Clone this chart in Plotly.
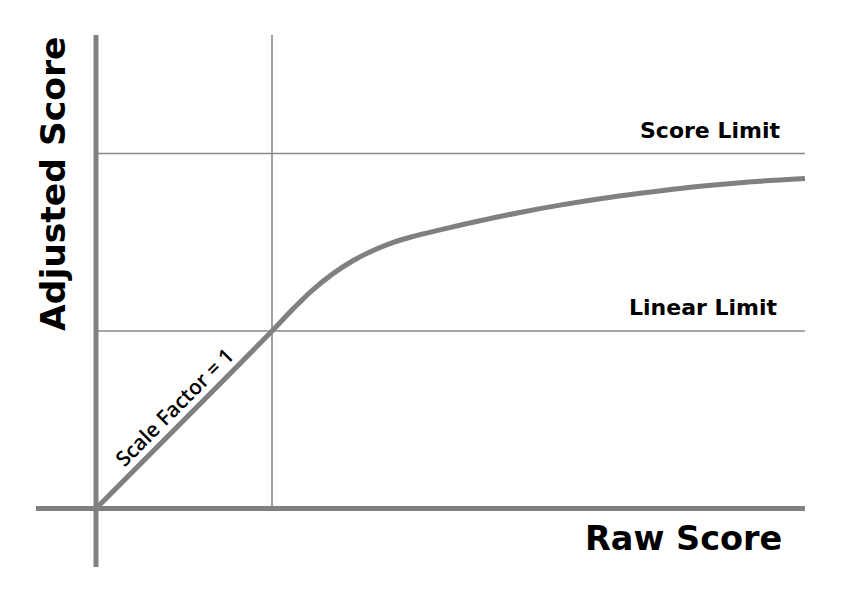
import plotly.graph_objects as go

# ---- data (units: linear limit = 1, score limit = 2) ----
raw_score = [0.0, 1.000, 1.114, 1.227, 1.341, 1.455, 1.568, 1.682, 1.795, 1.955,
             2.182, 2.409, 2.636, 2.864, 3.091, 3.318, 3.545, 3.773, 4.028]
adjusted_score = [0.0, 1.000, 1.119, 1.228, 1.319, 1.393, 1.451, 1.497, 1.531, 1.570,
                  1.621, 1.668, 1.709, 1.745, 1.776, 1.803, 1.825, 1.844, 1.859]
linear_limit = 1.0
score_limit = 2.0
raw_score_max = 4.028
axis_x_extent = [-0.341, 4.028]
axis_y_extent = [-0.330, 2.668]

W, H = 852, 591
GREY = "#808080"
THIN = "#8a8a8a"
FONT = "DejaVu Sans"

def px(x):
    return x / W

def py(y):
    return 1 - y / H

fig = go.Figure()

fig.add_trace(go.Scatter(
    x=raw_score, y=adjusted_score, mode="lines",
    line=dict(color=GREY, width=5, shape="spline", smoothing=1.0),
    hoverinfo="skip",
))

shapes = [
    # thin reference lines
    dict(type="line", x0=linear_limit, x1=linear_limit, y0=0, y1=axis_y_extent[1],
         line=dict(color=THIN, width=1.6)),
    dict(type="line", x0=0, x1=raw_score_max, y0=linear_limit, y1=linear_limit,
         line=dict(color=THIN, width=1.6)),
    dict(type="line", x0=0, x1=raw_score_max, y0=score_limit, y1=score_limit,
         line=dict(color=THIN, width=1.6)),
    # thick axes
    dict(type="line", x0=axis_x_extent[0], x1=axis_x_extent[1], y0=0, y1=0,
         line=dict(color=GREY, width=5)),
    dict(type="line", x0=0, x1=0, y0=axis_y_extent[0], y1=axis_y_extent[1],
         line=dict(color=GREY, width=5)),
]
for s in shapes:
    s.update(xref="x", yref="y", layer="below")

annotations = [
    dict(text="<b>Adjusted Score</b>", x=px(53), y=py(184), textangle=-90,
         font=dict(family=FONT, size=34.5, color="black"),
         xanchor="center", yanchor="middle"),
    dict(text="<b>Raw Score</b>", x=px(683), y=py(538),
         font=dict(family=FONT, size=33.5, color="black"),
         xanchor="center", yanchor="middle"),
    dict(text="<b>Score Limit</b>", x=px(782), y=py(130),
         font=dict(family=FONT, size=22, color="black"),
         xanchor="right", yanchor="middle"),
    dict(text="<b>Linear Limit</b>", x=px(780), y=py(307),
         font=dict(family=FONT, size=22, color="black"),
         xanchor="right", yanchor="middle"),
    dict(text="Scale Factor = 1", x=px(174), y=py(407), textangle=-45,
         font=dict(family="Open Sans", size=21, color="black", weight=600),
         xanchor="center", yanchor="middle"),
]
for a in annotations:
    a.update(xref="paper", yref="paper", showarrow=False)

fig.update_layout(
    width=W, height=H,
    margin=dict(l=0, r=0, t=0, b=0),
    paper_bgcolor="white", plot_bgcolor="white",
    showlegend=False,
    shapes=shapes, annotations=annotations,
    xaxis=dict(range=[-96 / 176, (W - 96) / 176], visible=False, fixedrange=True),
    yaxis=dict(range=[-(H - 508.5) / 177.5, 508.5 / 177.5], visible=False, fixedrange=True),
)

fig.write_html(
    "out.html",
    config={"displayModeBar": False},
    post_script="document.body.style.margin='0';document.body.style.overflow='hidden';",
)
